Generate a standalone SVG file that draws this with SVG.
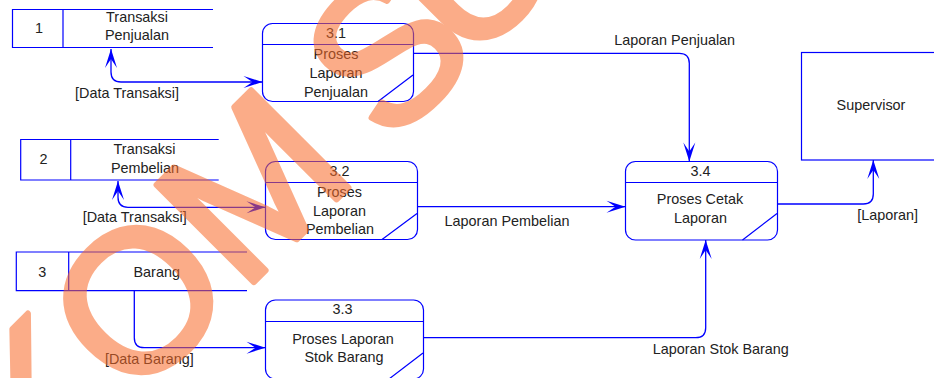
<svg xmlns="http://www.w3.org/2000/svg" width="934" height="378" viewBox="0 0 934 378">
  <style>
    text { font-family: "Liberation Sans", Arial, sans-serif; font-size: 14.4px; fill: #222; text-anchor: middle; }
    .box { fill: #fff; stroke: #0000ff; stroke-width: 1.2; }
    .ln { fill: none; stroke: #0000ff; stroke-width: 1.2; }
    .flow { fill: none; stroke: #0000ff; stroke-width: 1.3; }
    .wm { font-size: 200px; fill: #f86a28; stroke: #f86a28; stroke-width: 6; stroke-linejoin: round; text-anchor: start; }
  </style>
  <defs>
    <marker id="arrow" markerUnits="userSpaceOnUse" markerWidth="24" markerHeight="16" viewBox="-20 -8 22 16" refX="0" refY="0" orient="auto-start-reverse">
      <path d="M0,0 L-19,-6 L-10,0 L-19,6 Z" fill="#0000ff"/>
    </marker>
  </defs>

  <rect width="934" height="378" fill="#fff"/>

  <!-- data stores -->
  <g id="store-1">
    <path class="ln" d="M213,9.5 H12.5 V47.5 H213 M63,9.5 V47.5"/>
    <text x="39" y="32.5">1</text>
    <text x="137" y="22">Transaksi</text>
    <text x="137" y="39.6">Penjualan</text>
  </g>
  <g id="store-2">
    <path class="ln" d="M218.7,139.5 H20.7 V180 H218.7 M70.7,139.5 V180"/>
    <text x="43.5" y="164.3">2</text>
    <text x="144.5" y="154">Transaksi</text>
    <text x="145" y="172.7">Pembelian</text>
  </g>
  <g id="store-3">
    <path class="ln" d="M247,252 H16.3 V290.7 H247 M68.7,252 V290.7"/>
    <text x="42.3" y="276.7">3</text>
    <text x="156.7" y="276.7">Barang</text>
  </g>

  <!-- processes -->
  <g id="proc-3-1">
    <rect class="box" x="262.5" y="23.5" width="151" height="78" rx="10"/>
    <path class="ln" d="M262.5,44.5 H413.5 M413,75 L378,101.5"/>
    <text x="336" y="38.3">3.1</text>
    <text x="336" y="59.3">Proses</text>
    <text x="336" y="78.3">Laporan</text>
    <text x="336" y="96.7">Penjualan</text>
  </g>
  <g id="proc-3-2">
    <rect class="box" x="265.5" y="161.5" width="152" height="78" rx="10"/>
    <path class="ln" d="M265.5,182.5 H417.5 M417,213.5 L382,239.5"/>
    <text x="339.5" y="176">3.2</text>
    <text x="339.5" y="197.3">Proses</text>
    <text x="339.5" y="216">Laporan</text>
    <text x="340" y="234.3">Pembelian</text>
  </g>
  <g id="proc-3-3">
    <rect class="box" x="265.5" y="300" width="158" height="79" rx="10"/>
    <path class="ln" d="M265.5,321.5 H423.5 M423,353 L389,379"/>
    <text x="342.5" y="314.3">3.3</text>
    <text x="343" y="344.3">Proses Laporan</text>
    <text x="344" y="362">Stok Barang</text>
  </g>
  <g id="proc-3-4">
    <rect class="box" x="625.5" y="161.5" width="152" height="78.5" rx="10"/>
    <path class="ln" d="M625.5,182.5 H777.5 M777,213.5 L742.5,240"/>
    <text x="700.5" y="175.7">3.4</text>
    <text x="700" y="204">Proses Cetak</text>
    <text x="700.5" y="222.7">Laporan</text>
  </g>

  <!-- external entity -->
  <g id="supervisor">
    <rect class="box" x="801.5" y="52.5" width="140" height="107.5"/>
    <text x="871" y="110.3">Supervisor</text>
  </g>

  <!-- data flows -->
  <g id="flows">
    <path class="flow" d="M111,49 V72 Q111,82 121,82 H262.5" marker-start="url(#arrow)" marker-end="url(#arrow)"/>
    <path class="flow" d="M118,181 V197.3 Q118,207.3 128,207.3 H265.5" marker-start="url(#arrow)" marker-end="url(#arrow)"/>
    <path class="flow" d="M134.3,291 V337.7 Q134.3,347.7 144.3,347.7 H265.5" marker-end="url(#arrow)"/>
    <path class="flow" d="M413.5,53.3 H679.3 Q689.3,53.3 689.3,63.3 V161.5" marker-end="url(#arrow)"/>
    <path class="flow" d="M417.5,206.7 H625.5" marker-end="url(#arrow)"/>
    <path class="flow" d="M423.5,337.7 H695.7 Q705.7,337.7 705.7,327.7 V240" marker-end="url(#arrow)"/>
    <path class="flow" d="M777.5,204 H863.3 Q873.3,204 873.3,194 V160" marker-end="url(#arrow)"/>
    <text x="127" y="97.5">[Data Transaksi]</text>
    <text x="134.7" y="222">[Data Transaksi]</text>
    <text x="149.3" y="363.5">[Data Barang]</text>
    <text x="674.7" y="45">Laporan Penjualan</text>
    <text x="507" y="226">Laporan Pembelian</text>
    <text x="720.8" y="353.6">Laporan Stok Barang</text>
    <text x="887.7" y="220">[Laporan]</text>
  </g>

  <!-- translucent watermark lettering laid over the drawing -->
  <g opacity="0.55">
    <text class="wm" x="38" y="498" transform="rotate(-45 38 498)">KOM<tspan dx="40">S</tspan><tspan dx="-20">U</tspan></text>
  </g>
</svg>
